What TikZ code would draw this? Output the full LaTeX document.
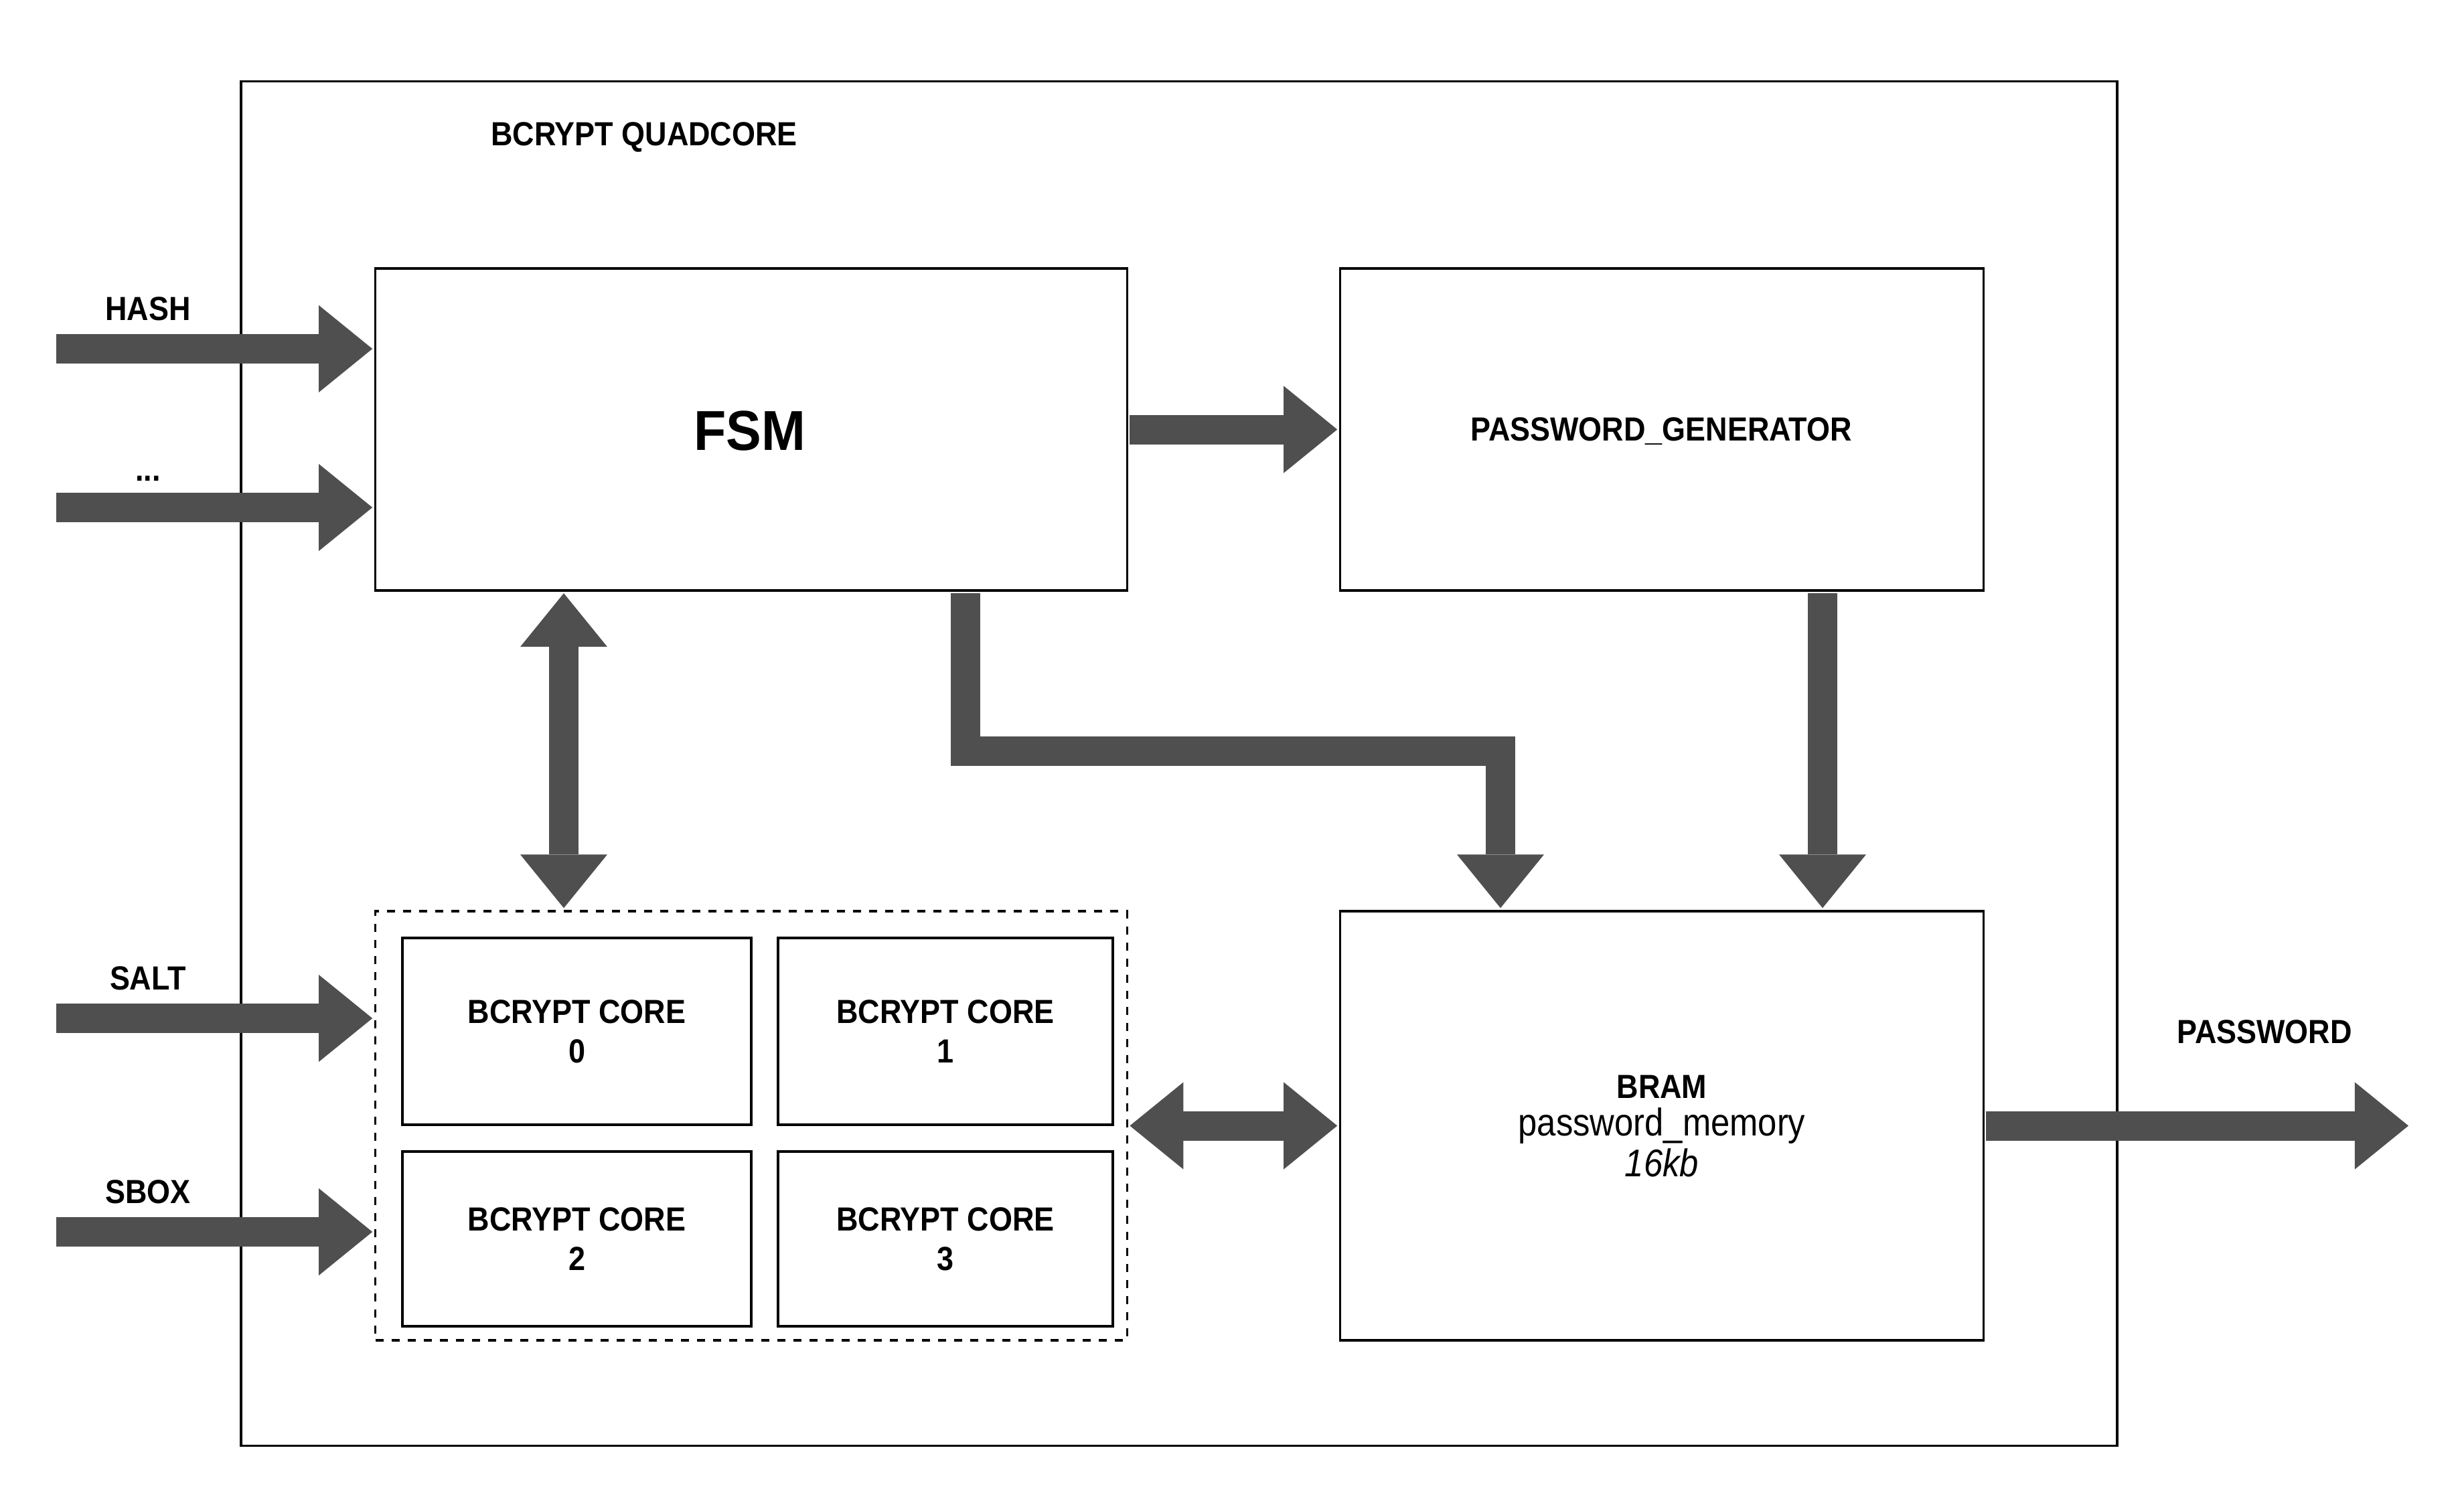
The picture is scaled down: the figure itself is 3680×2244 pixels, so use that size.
\documentclass[tikz,border=0pt]{standalone}
\usepackage{fontspec}
\setmainfont{Liberation Sans}
\newfontfamily\lblfont[FakeStretch=0.9]{Liberation Sans}
\newfontfamily\memfont[FakeStretch=0.88]{Liberation Sans}
\newfontfamily\fsmfont[FakeStretch=0.94]{Liberation Sans}
\usetikzlibrary{arrows.meta,calc}
\definecolor{arrowgray}{RGB}{79,79,79}
\tikzset{
  box/.style={draw=black, line width=0.035cm, rectangle, inner sep=0pt, outer sep=0pt},
  dbox/.style={box, dash pattern=on 0.12cm off 0.12cm},
  lbl/.style={font=\lblfont\bfseries\fontsize{14.2pt}{16.8pt}\selectfont, inner sep=0pt, align=center},
  memlbl/.style={font=\memfont\fontsize{16.4pt}{18pt}\selectfont, inner sep=0pt},
  bt/.tip={Triangle[width=1.3cm 0 0, length=0.8cm 0 0, line width=0pt 0 0]},
  bigarrow/.style={draw=arrowgray, line width=0.44cm, line join=miter, line cap=butt},
  gapend/.style={shorten >=0.045cm},
  gapstart/.style={shorten <=0.04cm},
}
\begin{document}
\begin{tikzpicture}[x=0.01cm, y=-0.01cm]
\useasboundingbox (0,0) rectangle (3680,2244);

% boxes
\node[box, minimum width=28cm, minimum height=20.37cm] (outer) at (1761,1140.5) {};
\node[box, minimum width=11.22cm, minimum height=4.81cm] (fsm) at (1122,641.5) {};
\node[box, minimum width=9.6cm, minimum height=4.81cm] (pg) at (2482,641.5) {};
\node[box, minimum width=9.6cm, minimum height=6.41cm] (bram) at (2482,1681.5) {};
\node[dbox, minimum width=11.22cm, minimum height=6.41cm] (cores) at (1122,1681.5) {};
\node[box, lbl, minimum width=5.21cm, minimum height=2.79cm] (c0) at (861.5,1540.5) {BCRYPT CORE\\0};
\node[box, lbl, minimum width=5.0cm, minimum height=2.79cm] (c1) at (1412,1540.5) {BCRYPT CORE\\1};
\node[box, lbl, minimum width=5.21cm, minimum height=2.61cm] (c2) at (861.5,1850.5) {BCRYPT CORE\\2};
\node[box, lbl, minimum width=5.0cm, minimum height=2.61cm] (c3) at (1412,1850.5) {BCRYPT CORE\\3};

% labels
\node[lbl, anchor=base] (title) at (962,217) {BCRYPT QUADCORE};
\node[font=\fsmfont\bfseries\fontsize{23.9pt}{28pt}\selectfont, inner sep=0pt, anchor=base] (fsmlbl) at (1120,672) {FSM};
\node[lbl, anchor=base] (pglbl) at (2481,658) {PASSWORD\_GENERATOR};
\node[lbl, anchor=base] (bramlbl) at ($(bram.center)+(0,-41.5)$) {BRAM};
\node[memlbl, anchor=base] (memlbl) at ($(bram.center)+(0,15)$) {password\_memory};
\node[memlbl, font=\memfont\itshape\fontsize{16.4pt}{18pt}\selectfont, anchor=base] (sizelbl) at ($(bram.center)+(0,76)$) {16kb};
\node[lbl, anchor=base] (hashlbl) at (221,478) {HASH};
\node[lbl, anchor=base] (dotslbl) at (221,718) {...};
\node[lbl, anchor=base] (saltlbl) at (221,1478) {SALT};
\node[lbl, anchor=base] (sboxlbl) at (221,1797) {SBOX};
\node[lbl, anchor=base] (pwlbl) at (3382,1558) {PASSWORD};

% connector coordinates
\coordinate (hashs) at (84,521);
\coordinate (dotss) at (84,758);
\coordinate (salts) at (84,1521);
\coordinate (sboxs) at (84,1840);
\coordinate (vx) at (842,1100);
\coordinate (lc1) at (1442,1122);
\coordinate (lc2) at (2241,1122);
\coordinate (px) at (2722,1100);
\coordinate (pwend) at (3597,1681.5);

% arrows
\draw[bigarrow, gapend, -bt] (hashs) -- (hashs -| fsm.west);
\draw[bigarrow, gapend, -bt] (dotss) -- (dotss -| fsm.west);
\draw[bigarrow, gapend, -bt] (salts) -- (salts -| cores.west);
\draw[bigarrow, gapend, -bt] (sboxs) -- (sboxs -| cores.west);
\draw[bigarrow, gapstart, gapend, -bt] (fsm.east) -- (pg.west);
\draw[bigarrow, gapstart, gapend, bt-bt] (fsm.south -| vx) -- (cores.north -| vx);
\draw[bigarrow, gapstart, gapend, -bt] (fsm.south -| lc1) -- (lc1) -- (lc2) -- (bram.north -| lc2);
\draw[bigarrow, gapstart, gapend, -bt] (pg.south -| px) -- (bram.north -| px);
\draw[bigarrow, gapstart, gapend, bt-bt] (cores.east) -- (bram.west);
\draw[bigarrow, gapstart, -bt] (bram.east) -- (pwend);
\end{tikzpicture}
\end{document}
